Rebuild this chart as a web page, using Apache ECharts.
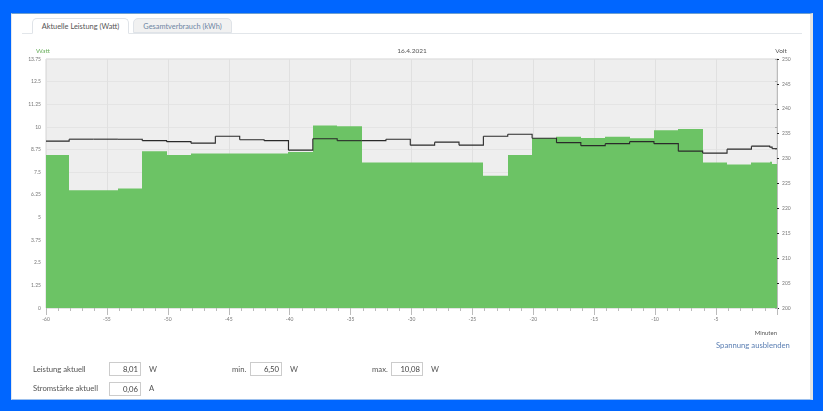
<!DOCTYPE html>
<html>
<head>
<meta charset="utf-8">
<script src="https://cdn.jsdelivr.net/npm/echarts@6/dist/echarts.min.js"></script>
<style>
  html, body { margin: 0; padding: 0; width: 823px; height: 411px; overflow: hidden; background: #0066ff; }
  body { font-family: Lato, sans-serif; color: #555; font-size: 7.7px; }
  #card { position: absolute; left: 11px; top: 13px; width: 798px; height: 385px; background: #fff;
          border-top: 1px solid #6d9fd0; border-right: 3px solid #e4e4e4; border-left: 1px solid #e4e8ee; border-bottom: 1px solid #9cc0ee; }
  #chart { position: absolute; left: 0; top: 0; width: 823px; height: 411px; }
  .tabline { position: absolute; left: 22px; top: 33px; width: 780px; height: 1px; background: #e2e6ea; }
  .tab { position: absolute; top: 18px; height: 15px; line-height: 15px; text-align: center; box-sizing: border-box; white-space: nowrap;
         border: 1px solid #dfe3e8; border-radius: 5px 5px 0 0; font-size: 7.4px; }
  .tab.on { left: 32px; width: 97px; background: #fff; border-bottom: 1px solid #fff; height: 16px; color: #555; }
  .tab.off { left: 133px; width: 99px; background: #f1f1f1; color: #6f86a3; }
  .lbl { position: absolute; line-height: 12px; white-space: nowrap; }
  .box { position: absolute; width: 32px; height: 14px; line-height: 13px; box-sizing: border-box; border: 1px solid #ccc;
         text-align: right; padding-right: 2px; background: #fff; color: #444; }
  .link { position: absolute; left: 716px; top: 339px; color: #5b7fb3; white-space: nowrap; line-height: 12px; }
</style>
</head>
<body>
<div id="card"></div>
<div class="tabline"></div>
<div class="tab on">Aktuelle Leistung (Watt)</div>
<div class="tab off">Gesamtverbrauch (kWh)</div>
<div id="chart"></div>
<div class="link">Spannung ausblenden</div>
<div class="lbl" style="left:33px;top:363px">Leistung aktuell</div>
<div class="box" style="left:109px;top:362px">8,01</div>
<div class="lbl" style="left:149px;top:363px">W</div>
<div class="lbl" style="left:232px;top:363px">min.</div>
<div class="box" style="left:250px;top:362px">6,50</div>
<div class="lbl" style="left:290px;top:363px">W</div>
<div class="lbl" style="left:372px;top:363px">max.</div>
<div class="box" style="left:391px;top:362px">10,08</div>
<div class="lbl" style="left:431px;top:363px">W</div>
<div class="lbl" style="left:33px;top:382px">Stromstärke aktuell</div>
<div class="box" style="left:109px;top:382px">0,06</div>
<div class="lbl" style="left:149px;top:382px">A</div>
<script>
// Minuten: Beginn jeder Stufe, letzter Wert ist das Ende
var zeiten = [-60, -58.1, -56.1, -54.1, -52.1, -50.1, -48.1, -46.1, -44.1, -42.1, -40.1, -38.1, -36.1,
  -34.1, -32.1, -30.1, -28.1, -26.1, -24.1, -22.1, -20.1, -18.1, -16.1, -14.1, -12.1, -10.1, -8.1,
  -6.1, -4.1, -2.1, -0.6, -0.4, 0];

// Watt
var leistung = [8.45, 6.5, 6.5, 6.6, 8.65, 8.45, 8.53, 8.53, 8.53, 8.53, 8.62, 10.08, 10.03,
  8.03, 8.03, 8.03, 8.03, 8.03, 7.3, 8.45, 9.37, 9.46, 9.39, 9.46, 9.37, 9.81, 9.89,
  8.03, 7.93, 8.03, 8.08, 7.95];

// Volt
var spannung = [233.5, 233.9, 233.9, 233.9, 233.6, 233.4, 233.1, 234.5, 233.8, 233.6, 231.7, 234, 233.6,
  233.6, 233.9, 232.7, 233.3, 232.7, 234.5, 234.9, 234.1, 233.2, 232.6, 233, 233.4, 233, 231.5,
  231.1, 231.9, 232.5, 232.3, 232];

var datum = '16.4.2021';

// [von, bis, wert, naechster wert]
function stufen(xs, ys) {
  return ys.map(function (y, i) {
    return [xs[i], xs[i + 1], y, i + 1 < ys.length ? ys[i + 1] : y];
  });
}

function flaeche(params, api) {
  var a = api.coord([api.value(0), api.value(2)]);
  var b = api.coord([api.value(1), 0]);
  var x0 = Math.round(a[0]), x1 = Math.round(b[0]);
  return {
    type: 'rect',
    shape: { x: x0, y: a[1], width: x1 - x0, height: b[1] - a[1] },
    style: { fill: '#6cc365' }
  };
}

function linie(params, api) {
  var a = api.coord([api.value(0), api.value(2)]);
  var b = api.coord([api.value(1), api.value(2)]);
  var c = api.coord([api.value(1), api.value(3)]);
  return {
    type: 'polyline',
    shape: { points: [a, b, c] },
    style: { fill: 'none', stroke: '#2a2a2a', lineWidth: 1.1, lineJoin: 'miter' }
  };
}

var chart = echarts.init(document.getElementById('chart'), null, { renderer: 'canvas' });
var schrift = 'Lato, sans-serif';

function kopf(text, left, farbe) {
  return { text: text, left: left, top: 42, textAlign: 'center',
    textStyle: { fontSize: 6.5, fontWeight: 'normal', color: farbe, fontFamily: schrift } };
}

chart.setOption({
  animation: false,
  backgroundColor: 'transparent',
  title: [
    kopf(datum, 407, '#555'),
    kopf('Watt', 38, '#6cb05f'),
    kopf('Volt', 776, '#555')
  ],
  grid: { left: 46, right: 46, top: 59, bottom: 103, show: true, backgroundColor: '#eeeeee', borderWidth: 1, borderColor: '#d4d4d4' },
  xAxis: {
    type: 'value', min: -60, max: 0, interval: 5,
    name: 'Minuten', nameLocation: 'end', nameGap: 0,
    nameTextStyle: { fontSize: 6, color: '#555', fontFamily: schrift, align: 'right', verticalAlign: 'top', padding: [22, 0, 0, 0] },
    axisLine: { show: false },
    axisTick: { length: 7, lineStyle: { color: '#bbb' } },
    minorTick: { show: true, splitNumber: 5, length: 3, lineStyle: { color: '#bbb' } },
    axisLabel: { fontSize: 5, color: '#777', margin: 9, fontFamily: schrift, showMaxLabel: false },
    splitLine: { show: true, lineStyle: { color: '#e0e0e0', width: 1 } }
  },
  yAxis: [{
    type: 'value', min: 0, max: 13.75, interval: 1.25,
    axisLine: { show: false },
    axisTick: { show: true, length: 2, lineStyle: { color: '#aaa' } },
    axisLabel: { fontSize: 5, color: '#777', margin: 5, fontFamily: schrift },
    splitLine: { show: true, lineStyle: { color: '#e4e4e4', width: 1 } }
  }, {
    type: 'value', min: 200, max: 250, interval: 5, position: 'right',
    axisLine: { show: true, lineStyle: { color: '#bbb' } },
    axisTick: { show: true, length: 2, lineStyle: { color: '#222' } },
    axisLabel: { fontSize: 5, color: '#777', margin: 5, fontFamily: schrift },
    splitLine: { show: false }
  }],
  series: [{
    name: 'Leistung', type: 'custom', yAxisIndex: 0, renderItem: flaeche,
    encode: { x: [0, 1], y: 2 },
    data: stufen(zeiten, leistung),
    z: 2
  }, {
    name: 'Spannung', type: 'custom', yAxisIndex: 1, renderItem: linie,
    encode: { x: [0, 1], y: 2 },
    data: stufen(zeiten, spannung),
    z: 3
  }]
});
</script>
</body>
</html>
